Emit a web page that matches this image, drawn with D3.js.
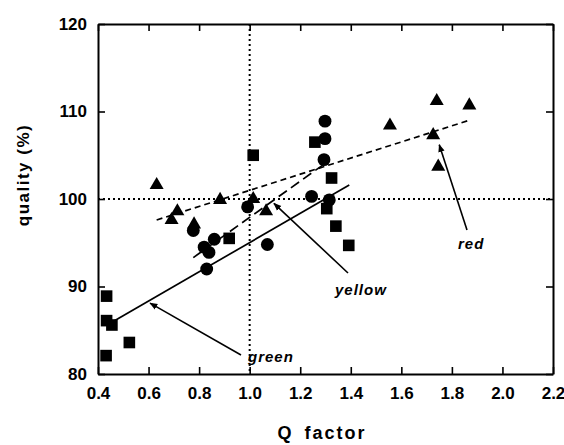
<!DOCTYPE html>
<html>
<head>
<meta charset="utf-8">
<script src="https://cdn.jsdelivr.net/npm/d3@7"></script>
<style>
  body { margin: 0; background: #fff; }
  text { font-family: "Liberation Sans", Arial, sans-serif; fill: #000; }
</style>
</head>
<body>
<script>
// green = squares, yellow = circles, red = triangles
var greenQ = [0.434, 0.434, 0.455, 0.524, 0.432, 1.014, 0.919, 1.258, 1.324, 1.305, 1.341, 1.392];
var greenQuality = [88.9, 86.1, 85.6, 83.6, 82.1, 105.0, 95.5, 106.5, 102.4, 98.9, 96.9, 94.7];

var yellowQ = [0.992, 0.777, 0.86, 0.82, 0.839, 0.83, 1.07, 1.298, 1.298, 1.294, 1.245, 1.315];
var yellowQuality = [99.1, 96.4, 95.4, 94.5, 93.9, 92.0, 94.8, 108.9, 106.9, 104.5, 100.3, 99.9];

var redQ = [0.632, 0.883, 1.014, 0.714, 0.691, 1.065, 0.78, 1.555, 1.74, 1.869, 1.726, 1.746];
var redQuality = [101.6, 99.9, 100.0, 98.6, 97.6, 98.6, 97.1, 108.4, 111.2, 110.7, 107.3, 103.7];

// fitted lines, [start, end]
var greenFitQ = [0.46, 1.394];
var greenFitQuality = [86.0, 101.6];
var yellowFitQ = [0.777, 1.30];
var yellowFitQuality = [93.3, 104.1];
var redFitQ = [0.632, 1.869];
var redFitQuality = [97.6, 109.0];

var xTicks = [0.4, 0.6, 0.8, 1.0, 1.2, 1.4, 1.6, 1.8, 2.0, 2.2];
var yTicks = [80, 90, 100, 110, 120];

// label text and arrow head (data)
var labelNames = ['green', 'yellow', 'red'];
var labelHeadQ = [0.606, 1.096, 1.75];
var labelHeadQuality = [88.1, 99.5, 106.2];

var width = 564;
var height = 445;
var margin = { left: 98, right: 11, top: 24, bottom: 71 };

var x = d3.scaleLinear().domain([0.4, 2.2]).range([margin.left, width - margin.right]);
var y = d3.scaleLinear().domain([80, 120]).range([height - margin.bottom, margin.top]);

var svg = d3.select('body').append('svg')
  .attr('width', width)
  .attr('height', height);

// reference lines
svg.append('line')
  .attr('x1', x(1.0)).attr('x2', x(1.0))
  .attr('y1', y(120)).attr('y2', y(80))
  .attr('stroke', '#000').attr('stroke-width', 2)
  .attr('stroke-dasharray', '2,3');

svg.append('line')
  .attr('x1', x(0.4)).attr('x2', x(2.2))
  .attr('y1', y(100)).attr('y2', y(100))
  .attr('stroke', '#000').attr('stroke-width', 2)
  .attr('stroke-dasharray', '2,3');

// axes on all four sides, ticks pointing in
var bottomAxis = d3.axisBottom(x).tickValues(xTicks).tickSizeInner(-7).tickSizeOuter(0).tickFormat(d3.format('.1f'));
var topAxis = d3.axisTop(x).tickValues(xTicks).tickSizeInner(-7).tickSizeOuter(0).tickFormat('');
var leftAxis = d3.axisLeft(y).tickValues(yTicks).tickSizeInner(-7).tickSizeOuter(0).tickFormat(d3.format('d'));
var rightAxis = d3.axisRight(y).tickValues(yTicks).tickSizeInner(-7).tickSizeOuter(0).tickFormat('');

function styleAxis(g) {
  g.select('.domain').attr('stroke', '#000').attr('stroke-width', 2);
  g.selectAll('.tick line').attr('stroke', '#000').attr('stroke-width', 1.6);
  g.selectAll('.tick text')
    .attr('font-size', 17)
    .attr('font-weight', 'bold')
    .attr('fill', '#000');
}

svg.append('g')
  .attr('transform', 'translate(0,' + y(80) + ')')
  .call(bottomAxis)
  .call(styleAxis)
  .call(function (g) { g.selectAll('.tick text').attr('dy', '1.3em'); });

svg.append('g')
  .attr('transform', 'translate(0,' + y(120) + ')')
  .call(topAxis)
  .call(styleAxis);

svg.append('g')
  .attr('transform', 'translate(' + x(0.4) + ',0)')
  .call(leftAxis)
  .call(styleAxis)
  .call(function (g) { g.selectAll('.tick text').attr('x', -11); });

svg.append('g')
  .attr('transform', 'translate(' + x(2.2) + ',0)')
  .call(rightAxis)
  .call(styleAxis);

// fitted lines
var line = d3.line().x(function (d) { return x(d[0]); }).y(function (d) { return y(d[1]); });

function fitLine(qs, vals, dash) {
  svg.append('path')
    .datum(d3.zip(qs, vals))
    .attr('d', line)
    .attr('fill', 'none')
    .attr('stroke', '#000')
    .attr('stroke-width', 1.7)
    .attr('stroke-dasharray', dash);
}

fitLine(greenFitQ, greenFitQuality, null);
fitLine(yellowFitQ, yellowFitQuality, '10,5');
fitLine(redFitQ, redFitQuality, '6,4');

// markers
var square = d3.symbol().type(d3.symbolSquare).size(135);
var circle = d3.symbol().type(d3.symbolCircle).size(130);
var triangle = d3.symbol().type(d3.symbolTriangle).size(85);

function drawPoints(qs, vals, sym) {
  svg.append('g')
    .selectAll('path')
    .data(d3.zip(qs, vals))
    .join('path')
    .attr('transform', function (d) { return 'translate(' + x(d[0]) + ',' + y(d[1]) + ')'; })
    .attr('d', sym)
    .attr('fill', '#000');
}

drawPoints(greenQ, greenQuality, square);
drawPoints(yellowQ, yellowQuality, circle);
drawPoints(redQ, redQuality, triangle);

// annotation arrows: tail x, tail y, text x, text y
var labelPos = [[241, 355, 248, 362], [348, 273, 335, 295], [467, 230, 458, 249]];

svg.append('defs').append('marker')
  .attr('id', 'head')
  .attr('viewBox', '0 0 10 10')
  .attr('refX', 9).attr('refY', 5)
  .attr('markerWidth', 8).attr('markerHeight', 8)
  .attr('markerUnits', 'userSpaceOnUse')
  .attr('orient', 'auto')
  .append('path')
  .attr('d', 'M0,1 L10,5 L0,9 Z')
  .attr('fill', '#000');

labelNames.forEach(function (name, i) {
  var p = labelPos[i];
  svg.append('line')
    .attr('x1', p[0]).attr('y1', p[1])
    .attr('x2', x(labelHeadQ[i])).attr('y2', y(labelHeadQuality[i]))
    .attr('stroke', '#000').attr('stroke-width', 1.6)
    .attr('marker-end', 'url(#head)');

  svg.append('text')
    .attr('x', p[2]).attr('y', p[3])
    .attr('font-size', 15)
    .attr('font-weight', 'bold')
    .attr('font-style', 'italic')
    .attr('letter-spacing', 1)
    .text(name);
});

// axis titles
svg.append('text')
  .attr('x', 322).attr('y', 439)
  .attr('text-anchor', 'middle')
  .attr('font-size', 18)
  .attr('font-weight', 'bold')
  .attr('letter-spacing', 2)
  .attr('word-spacing', 4)
  .text('Q factor');

svg.append('text')
  .attr('transform', 'translate(29,175) rotate(-90)')
  .attr('text-anchor', 'middle')
  .attr('font-size', 17)
  .attr('font-weight', 'bold')
  .attr('letter-spacing', 1.5)
  .text('quality (%)');
</script>
</body>
</html>
